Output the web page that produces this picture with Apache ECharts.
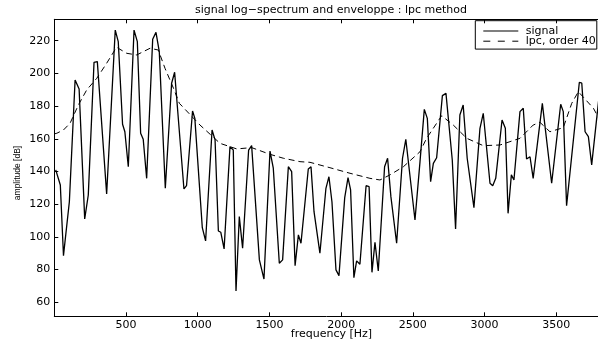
<!DOCTYPE html>
<html><head><meta charset="utf-8">
<script src="https://cdn.jsdelivr.net/npm/echarts@6/dist/echarts.min.js"></script>
<style>html,body{margin:0;padding:0;background:#fff}#c{width:598px;height:344px}</style>
</head><body><div id="c"></div>
<script>
const signalFreq = [10,42,64,105,145,173,212,237,277,300,365,425,446,476,492,516,556,579,602,620,644,686,709,732,774,818,839,904,922,964,980,1032,1055,1100,1121,1144,1161,1184,1225,1248,1267,1290,1313,1355,1376,1430,1462,1504,1527,1569,1592,1632,1655,1679,1702,1720,1771,1790,1811,1852,1894,1915,1936,1964,1985,2025,2048,2066,2089,2108,2131,2174,2195,2215,2236,2259,2303,2324,2347,2387,2428,2451,2515,2550,2580,2601,2624,2643,2666,2706,2731,2775,2798,2828,2851,2879,2926,2968,2991,3038,3057,3078,3122,3145,3164,3187,3205,3247,3270,3293,3317,3339,3403,3468,3531,3549,3572,3661,3678,3701,3724,3747,3795];
const signalAmp = [141,131.7,88.5,121.5,196,190.5,111,125.6,206.8,207.2,126.2,226.5,219.4,168.9,164.3,142.9,226.5,219.4,163.4,159.7,135.8,220.9,225.1,213.3,129.7,194,200.7,129.3,131.3,177,172.5,105.6,97.5,165.4,159.3,103.6,102.8,92.6,155.2,153.1,66.9,112.4,93,153.1,155.8,85.9,74.2,152.5,142,83.9,85.9,142.9,139.9,82.4,101.2,96.1,141.5,142.9,115.4,90,129.7,136.8,121.5,79.8,76.3,124,136.2,128.7,75,85.3,83.2,131.3,130.7,78.3,96.7,79.1,142.9,148.1,124.6,96.1,148.1,159.7,110.3,146,178,172.5,133.8,145,148.4,186.4,187.8,147,104.8,174.6,180.7,148.1,117.9,166.4,175.6,132.8,131.3,135.8,171.5,166.4,114.4,137.9,134.8,176.6,178.7,147.6,149,135.8,181.7,132.8,181.1,176.6,119.1,194.6,194,164.3,161.3,144,183];
const lpcFreq = [0,18,64,110,168,226,296,365,434,505,575,668,725,772,831,872,1016,1156,1272,1376,1504,1597,1713,1783,1922,2062,2201,2271,2340,2434,2550,2596,2701,2782,2876,2991,3108,3247,3339,3386,3456,3549,3608,3654,3759,3800];
const lpcAmp = [163,163.4,165.4,169.5,180.7,189.9,197,206.2,216,212.3,211.3,215.4,214.3,203.1,190.9,181.7,168.4,157.2,153.8,154.6,150.5,148.1,146,145.6,142.3,138.9,135.8,134.8,137.9,142.9,152.1,160.3,174.1,168.4,160.3,155.8,156.2,160.3,168.4,170.1,164.3,166.8,181.7,188.8,178.7,172];
const xTicks = [500,1000,1500,2000,2500,3000,3500];
const yTicks = [60,80,100,120,140,160,180,200,220];
const titleText = 'signal log\u2212spectrum and enveloppe : lpc method';
const xName = 'frequency [Hz]';
const yName = 'amplitude [dB]';
const seriesNames = ['signal', 'lpc, order 40'];

const FONT = 'DejaVu Sans';
const chart = echarts.init(document.getElementById('c'), null, {renderer: 'canvas'});
const zip = (a, b) => a.map((v, i) => [v, b[i]]);
const XMIN = 0, XMAX = 3865, YMIN = 51.4, YMAX = 233.1;

function xAx(pos, showLabel) {
  return {
    type: 'value', position: pos, min: XMIN, max: XMAX,
    axisLine: {show: true, onZero: false, lineStyle: {color: '#000', width: 1}},
    axisTick: {show: true, inside: true, length: 4, customValues: xTicks, lineStyle: {color: '#000'}},
    axisLabel: {show: showLabel, customValues: xTicks, formatter: v => String(v), margin: 3, color: '#000', fontFamily: FONT, fontSize: 11},
    splitLine: {show: false},
    name: showLabel ? xName : '', nameLocation: 'middle', nameGap: 11, nameMoveOverlap: false,
    nameTextStyle: {color: '#000', fontFamily: FONT, fontSize: 11, verticalAlign: 'top', lineHeight: 13}
  };
}
function yAx(pos, showLabel) {
  return {
    type: 'value', position: pos, min: YMIN, max: YMAX,
    axisLine: {show: true, onZero: false, lineStyle: {color: '#000', width: 1}},
    axisTick: {show: true, inside: true, length: 4, customValues: yTicks, lineStyle: {color: '#000'}},
    axisLabel: {show: showLabel, customValues: yTicks, formatter: v => String(v), margin: 4, color: '#000', fontFamily: FONT, fontSize: 11},
    splitLine: {show: false}
  };
}

const LX = 475.3, LY = 20.7, LW = 121.5, LH = 28.4;
const TXT = '11px "DejaVu Sans"';
chart.setOption({
  animation: false,
  backgroundColor: '#fff',
  grid: {left: 54.3, top: 19.3, right: -10.6, bottom: 27.7, containLabel: false, outerBoundsMode: 'none'},
  xAxis: [xAx('bottom', true), xAx('top', false)],
  yAxis: [yAx('left', true), yAx('right', false)],
  graphic: [
    {type: 'text', x: 331, y: 10,
     style: {text: titleText, fill: '#000', font: TXT, textAlign: 'center', textVerticalAlign: 'middle'}},
    {type: 'text', x: 18, y: 173, rotation: Math.PI / 2,
     style: {text: yName, fill: '#000', font: '8.5px "Liberation Sans"', textAlign: 'center', textVerticalAlign: 'middle'}},
    {type: 'group', z: 100, children: [
      {type: 'rect', shape: {x: LX, y: LY, width: LW, height: LH}, style: {fill: '#fff', stroke: '#000', lineWidth: 1}},
      {type: 'line', shape: {x1: LX + 8, y1: 31, x2: LX + 43, y2: 31}, style: {stroke: '#000', lineWidth: 1.1}},
      {type: 'text', x: LX + 50.5, y: 31, style: {text: seriesNames[0], fill: '#000', font: TXT, textAlign: 'left', textVerticalAlign: 'middle'}},
      {type: 'line', shape: {x1: LX + 8, y1: 41.2, x2: LX + 43, y2: 41.2}, style: {stroke: '#000', lineWidth: 1, lineDash: [7, 7.5]}},
      {type: 'text', x: LX + 50.5, y: 41.2, style: {text: seriesNames[1], fill: '#000', font: TXT, textAlign: 'left', textVerticalAlign: 'middle'}}
    ]}
  ],
  series: [
    {name: seriesNames[0], type: 'line', data: zip(signalFreq, signalAmp), showSymbol: false, symbol: 'none',
     lineStyle: {color: '#000', width: 1.3}, itemStyle: {color: '#000'}, z: 3},
    {name: seriesNames[1], type: 'line', data: zip(lpcFreq, lpcAmp), showSymbol: false, symbol: 'none',
     lineStyle: {color: '#000', width: 1, type: [6, 4]}, itemStyle: {color: '#000'}, z: 2}
  ]
});
</script></body></html>
